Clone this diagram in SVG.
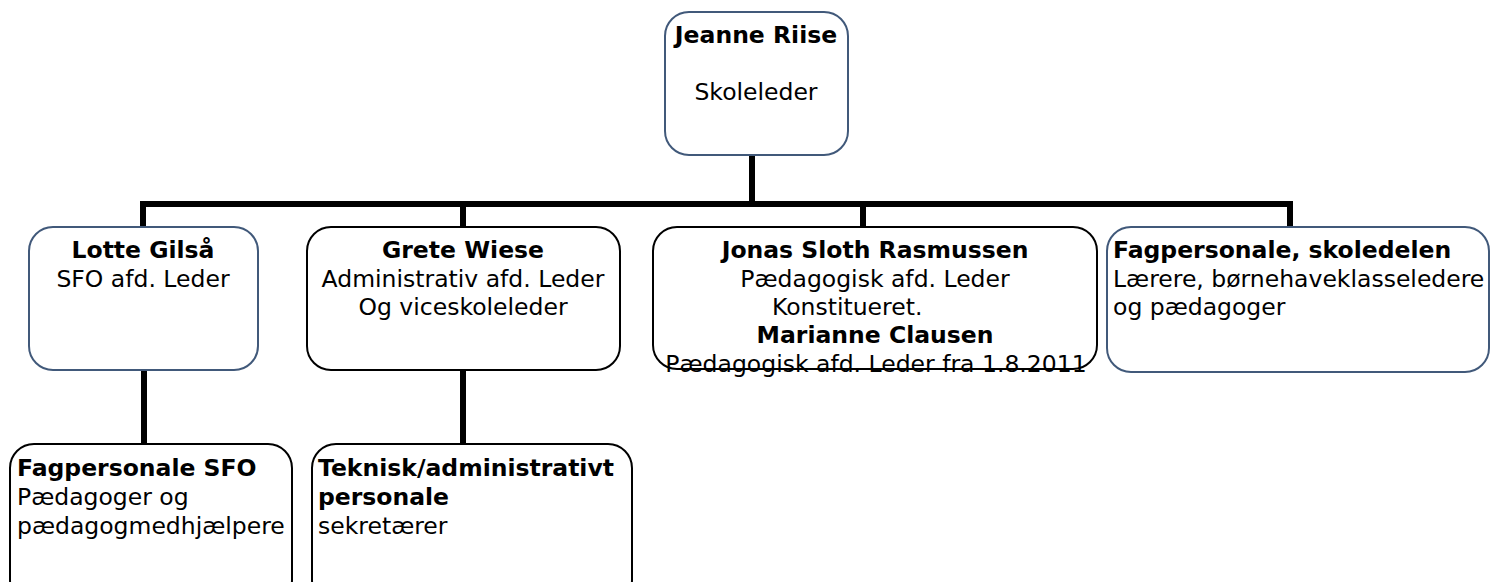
<svg xmlns="http://www.w3.org/2000/svg" width="1490" height="582" viewBox="0 0 1490 582">
<style>
.box{fill:#fff;stroke-width:2}
.blue{stroke:#41597a}
.black{stroke:#000}
text{font-family:"DejaVu Sans","Verdana",sans-serif;font-size:23.5px;fill:#000}
.b{font-weight:bold}
.c{text-anchor:middle}
.conn{fill:none;stroke:#000;stroke-width:6;stroke-linejoin:miter;stroke-linecap:butt}
</style>
<rect width="1490" height="582" fill="#fff"/>
<g id="connectors">
<path class="conn" d="M752 156 V204"/>
<path class="conn" d="M143 227 V204 H1290 V227"/>
<path class="conn" d="M463 204 V227"/>
<path class="conn" d="M863 204 V227"/>
<path class="conn" d="M144 370 V444"/>
<path class="conn" d="M463 370 V444"/>
</g>
<g id="jeanne">
<rect class="box blue" x="665" y="12" width="183" height="143" rx="24"/>
<text class="b c" x="756" y="43">Jeanne Riise</text>
<text class="c" x="756" y="100">Skoleleder</text>
</g>
<g id="lotte">
<rect class="box blue" x="29" y="227" width="229" height="143" rx="24"/>
<text class="b c" x="143" y="258">Lotte Gilså</text>
<text class="c" x="143" y="287">SFO afd. Leder</text>
</g>
<g id="grete">
<rect class="box black" x="307" y="227" width="313" height="143" rx="24"/>
<text class="b c" x="463" y="258">Grete Wiese</text>
<text class="c" x="463" y="287">Administrativ afd. Leder</text>
<text class="c" x="463" y="315">Og viceskoleleder</text>
</g>
<g id="jonas">
<rect class="box black" x="653" y="227" width="444" height="142" rx="24"/>
<text class="b c" x="875" y="258">Jonas Sloth Rasmussen</text>
<text class="c" x="875" y="287">Pædagogisk afd. Leder</text>
<text x="772" y="315">Konstitueret.</text>
<text class="b c" x="875" y="343">Marianne Clausen</text>
<text class="c" x="876" y="372">Pædagogisk afd. Leder fra 1.8.2011</text>
</g>
<g id="skoledelen">
<rect class="box blue" x="1107" y="227" width="382" height="145" rx="24"/>
<text class="b" x="1113" y="258">Fagpersonale, skoledelen</text>
<text x="1113" y="287">Lærere, børnehaveklasseledere</text>
<text x="1113" y="315">og pædagoger</text>
</g>
<g id="sfo">
<rect class="box black" x="10" y="444" width="282" height="160" rx="24"/>
<text class="b" x="17" y="476">Fagpersonale SFO</text>
<text x="17" y="505">Pædagoger og</text>
<text x="17" y="534">pædagogmedhjælpere</text>
</g>
<g id="teknisk">
<rect class="box black" x="312" y="444" width="320" height="160" rx="24"/>
<text class="b" x="318" y="476">Teknisk/administrativt</text>
<text class="b" x="318" y="505">personale</text>
<text x="318" y="534">sekretærer</text>
</g>
</svg>
